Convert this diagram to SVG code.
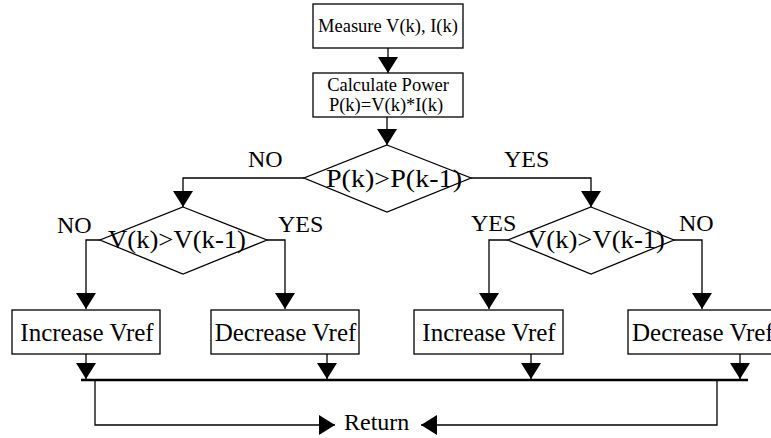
<svg xmlns="http://www.w3.org/2000/svg" width="771" height="438" viewBox="0 0 771 438">
<style>
.box{fill:#fff;stroke:#000;stroke-width:1.3}
.dia{fill:#fff;stroke:#000;stroke-width:1.3}
.ln{fill:none;stroke:#000;stroke-width:1.3}
.bus{fill:none;stroke:#000;stroke-width:2.5}
text{font-family:"Liberation Serif","Times New Roman",serif;fill:#000}
.t18{font-size:18.5px}
.t24{font-size:25px}
.lab{font-size:24px}
.c{text-anchor:middle}
</style>
<defs>
<marker id="ah" markerUnits="userSpaceOnUse" markerWidth="17" markerHeight="20" refX="16" refY="10" orient="auto" viewBox="0 0 17 20">
<path d="M0,0 L16,10 L0,20 Z" fill="#000"/>
</marker>
</defs>
<rect width="771" height="438" fill="#fff"/>
<g id="connectors">
<line class="ln" x1="388" y1="48" x2="388" y2="73" marker-end="url(#ah)"/>
<line class="ln" x1="387" y1="117" x2="387" y2="145" marker-end="url(#ah)"/>
<polyline class="ln" points="304,178 183,178 183,207" marker-end="url(#ah)"/>
<polyline class="ln" points="471,178 591,178 591,207" marker-end="url(#ah)"/>
<polyline class="ln" points="100,240 86,240 86,309" marker-end="url(#ah)"/>
<polyline class="ln" points="267,240 285,240 285,309" marker-end="url(#ah)"/>
<polyline class="ln" points="508,240 489,240 489,309" marker-end="url(#ah)"/>
<polyline class="ln" points="674,240 702,240 702,309" marker-end="url(#ah)"/>
<line class="ln" x1="86" y1="354" x2="86" y2="379" marker-end="url(#ah)"/>
<line class="ln" x1="327" y1="354" x2="327" y2="379" marker-end="url(#ah)"/>
<line class="ln" x1="531" y1="354" x2="531" y2="379" marker-end="url(#ah)"/>
<line class="ln" x1="740" y1="354" x2="740" y2="379" marker-end="url(#ah)"/>
<line class="bus" x1="81" y1="380" x2="748" y2="380"/>
<polyline class="ln" points="95,381 95,425 335,425" marker-end="url(#ah)"/>
<polyline class="ln" points="717,381 717,425 421,425" marker-end="url(#ah)"/>
</g>
<g id="measure">
<rect class="box" x="313" y="4" width="150" height="44"/>
<text class="t18 c" x="388" y="32">Measure V(k), I(k)</text>
</g>
<g id="calc">
<rect class="box" x="313" y="73" width="150" height="44"/>
<text class="t18 c" x="388" y="91">Calculate Power</text>
<text class="t18 c" x="386" y="111">P(k)=V(k)*I(k)</text>
</g>
<g id="dec-power">
<polygon class="dia" points="387,145 471,178 387,212 304,178"/>
<text class="t24 c" x="394" y="187" textLength="136" lengthAdjust="spacingAndGlyphs">P(k)&gt;P(k-1)</text>
</g>
<g id="lbl-no-top"><text class="lab" x="248" y="167">NO</text></g>
<g id="lbl-yes-top"><text class="lab" x="504" y="167">YES</text></g>
<g id="dec-v-left">
<polygon class="dia" points="183,207 267,240 183,274 100,240"/>
<text class="t24 c" x="177" y="248" textLength="138" lengthAdjust="spacingAndGlyphs">V(k)&gt;V(k-1)</text>
</g>
<g id="lbl-no-left"><text class="lab" x="57" y="233">NO</text></g>
<g id="lbl-yes-left"><text class="lab" x="278" y="232">YES</text></g>
<g id="dec-v-right">
<polygon class="dia" points="591,207 674,240 591,274 508,240"/>
<text class="t24 c" x="596" y="248" textLength="138" lengthAdjust="spacingAndGlyphs">V(k)&gt;V(k-1)</text>
</g>
<g id="lbl-yes-right"><text class="lab" x="471" y="231">YES</text></g>
<g id="lbl-no-right"><text class="lab" x="679" y="231">NO</text></g>
<g id="inc-left">
<rect class="box" x="12" y="310" width="148" height="44"/>
<text class="t24 c" x="87" y="341">Increase Vref</text>
</g>
<g id="dec-left">
<rect class="box" x="211" y="310" width="148" height="44"/>
<text class="t24 c" x="285.5" y="341">Decrease Vref</text>
</g>
<g id="inc-right">
<rect class="box" x="414" y="310" width="149" height="44"/>
<text class="t24 c" x="489" y="341">Increase Vref</text>
</g>
<g id="dec-right">
<rect class="box" x="628" y="310" width="150" height="44"/>
<text class="t24" x="632" y="341">Decrease Vref</text>
</g>
<g id="return">
<text class="lab" x="344" y="430">Return</text>
</g>
</svg>
